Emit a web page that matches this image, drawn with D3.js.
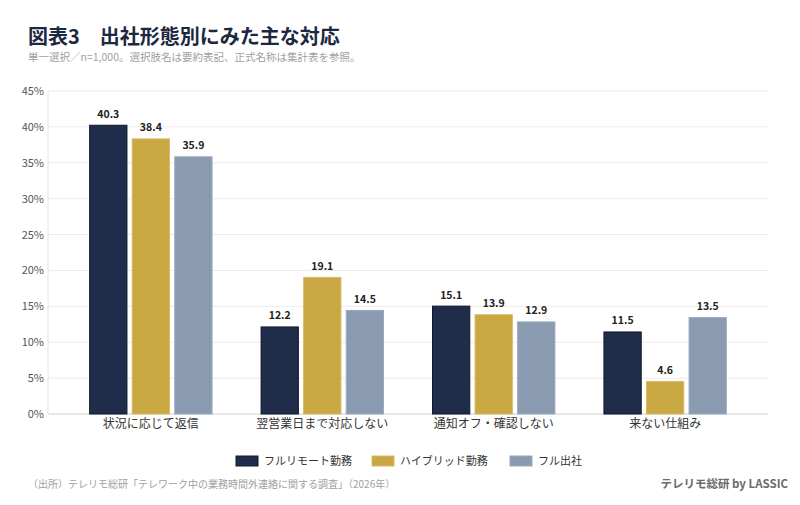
<!DOCTYPE html>
<html><head><meta charset="utf-8">
<script src="https://cdn.jsdelivr.net/npm/d3@7"></script>
<style>body{margin:0;background:#fff;font-family:"Noto Sans CJK JP","Noto Sans",sans-serif;}</style>
</head><body>
<svg id="c" width="800" height="505"></svg>
<script>
const categories = ["状況に応じて返信","翌営業日まで対応しない","通知オフ・確認しない","来ない仕組み"];
const seriesNames = ["フルリモート勤務","ハイブリッド勤務","フル出社"];
const fullRemote = [40.3,12.2,15.1,11.5];
const hybrid = [38.4,19.1,13.9,4.6];
const fullOffice = [35.9,14.5,12.9,13.5];
const yTicks = [0,5,10,15,20,25,30,35,40,45];
const colors = ["#1f2d4a","#c9a742","#8a9bb1"];
const strokes = ["#111a2e","#d8bb62","#9aaabf"];
const seriesValues = [fullRemote, hybrid, fullOffice];

const svg = d3.select("#c");
const font = '"Noto Sans CJK JP","Noto Sans",sans-serif';
const L = 48, R = 768, T = 91, B = 414;

svg.append("text").attr("x",28).attr("y",44).attr("font-size",20).attr("font-weight",700)
  .attr("fill","#1c2740").attr("font-family",font).text("図表3　出社形態別にみた主な対応");
svg.append("text").attr("x",28).attr("y",61).attr("font-size",10.5)
  .attr("fill","#a0a0a0").attr("font-family",font).text("単一選択／n=1,000。選択肢名は要約表記、正式名称は集計表を参照。");

const y = d3.scaleLinear().domain([0,45]).range([B,T]);
const x0 = d3.scaleBand().domain(categories).range([L,R]).paddingInner(0.28).paddingOuter(0.24);
const x1 = d3.scaleBand().domain(seriesNames).range([0,x0.bandwidth()]).paddingInner(0.1);

const g = svg.append("g");
g.selectAll("line.grid").data(yTicks).join("line")
  .attr("x1",L).attr("x2",R).attr("y1",d=>y(d)).attr("y2",d=>y(d))
  .attr("stroke","#ececec").attr("stroke-width",1);
g.append("line").attr("x1",L).attr("x2",L).attr("y1",T).attr("y2",B).attr("stroke","#e6e6e6");
g.append("line").attr("x1",L).attr("x2",R).attr("y1",B).attr("y2",B).attr("stroke","#d8d8d8");

const yAxis = d3.axisLeft(y).tickValues(yTicks).tickFormat(d=>d+"%").tickSize(0).tickPadding(4);
const ya = svg.append("g").attr("transform",`translate(${L},0)`).call(yAxis);
ya.select(".domain").remove();
ya.selectAll("text").attr("font-size",11).attr("fill","#555").attr("font-family",font);

const xAxis = d3.axisBottom(x0).tickSize(0).tickPadding(5);
const xa = svg.append("g").attr("transform",`translate(0,${B})`).call(xAxis);
xa.select(".domain").remove();
xa.selectAll("text").attr("font-size",12).attr("fill","#333").attr("font-family",font);

categories.forEach((c,ci)=>{
  seriesNames.forEach((s,si)=>{
    const v = seriesValues[si][ci];
    const bx = x0(c)+x1(s);
    g.append("rect").attr("x",bx+0.5).attr("y",y(v)+0.5).attr("width",x1.bandwidth()-1)
      .attr("height",y(0)-y(v)-0.5).attr("fill",colors[si]).attr("stroke",strokes[si]).attr("stroke-width",1);
    g.append("text").attr("x",bx+x1.bandwidth()/2).attr("y",y(v)-7).attr("text-anchor","middle")
      .attr("font-size",10.5).attr("font-weight",700).attr("fill","#222").attr("font-family",font)
      .text(v.toFixed(1));
  });
});

const legX = [236,372,510];
const lg = svg.append("g");
seriesNames.forEach((s,i)=>{
  lg.append("rect").attr("x",legX[i]).attr("y",456).attr("width",22).attr("height",10)
    .attr("fill",colors[i]).attr("stroke",strokes[i]);
  lg.append("text").attr("x",legX[i]+28).attr("y",465).attr("font-size",11).attr("fill","#333")
    .attr("font-family",font).text(s);
});

svg.append("text").attr("x",28).attr("y",488).attr("font-size",10).attr("fill","#a0a0a0")
  .attr("font-family",font).text("（出所）テレリモ総研「テレワーク中の業務時間外連絡に関する調査」（2026年）");
svg.append("text").attr("x",788).attr("y",488).attr("text-anchor","end").attr("font-size",11.5)
  .attr("font-weight",600).attr("fill","#6a6a6a").attr("font-family",font).text("テレリモ総研 by LASSIC");
</script>
</body></html>
